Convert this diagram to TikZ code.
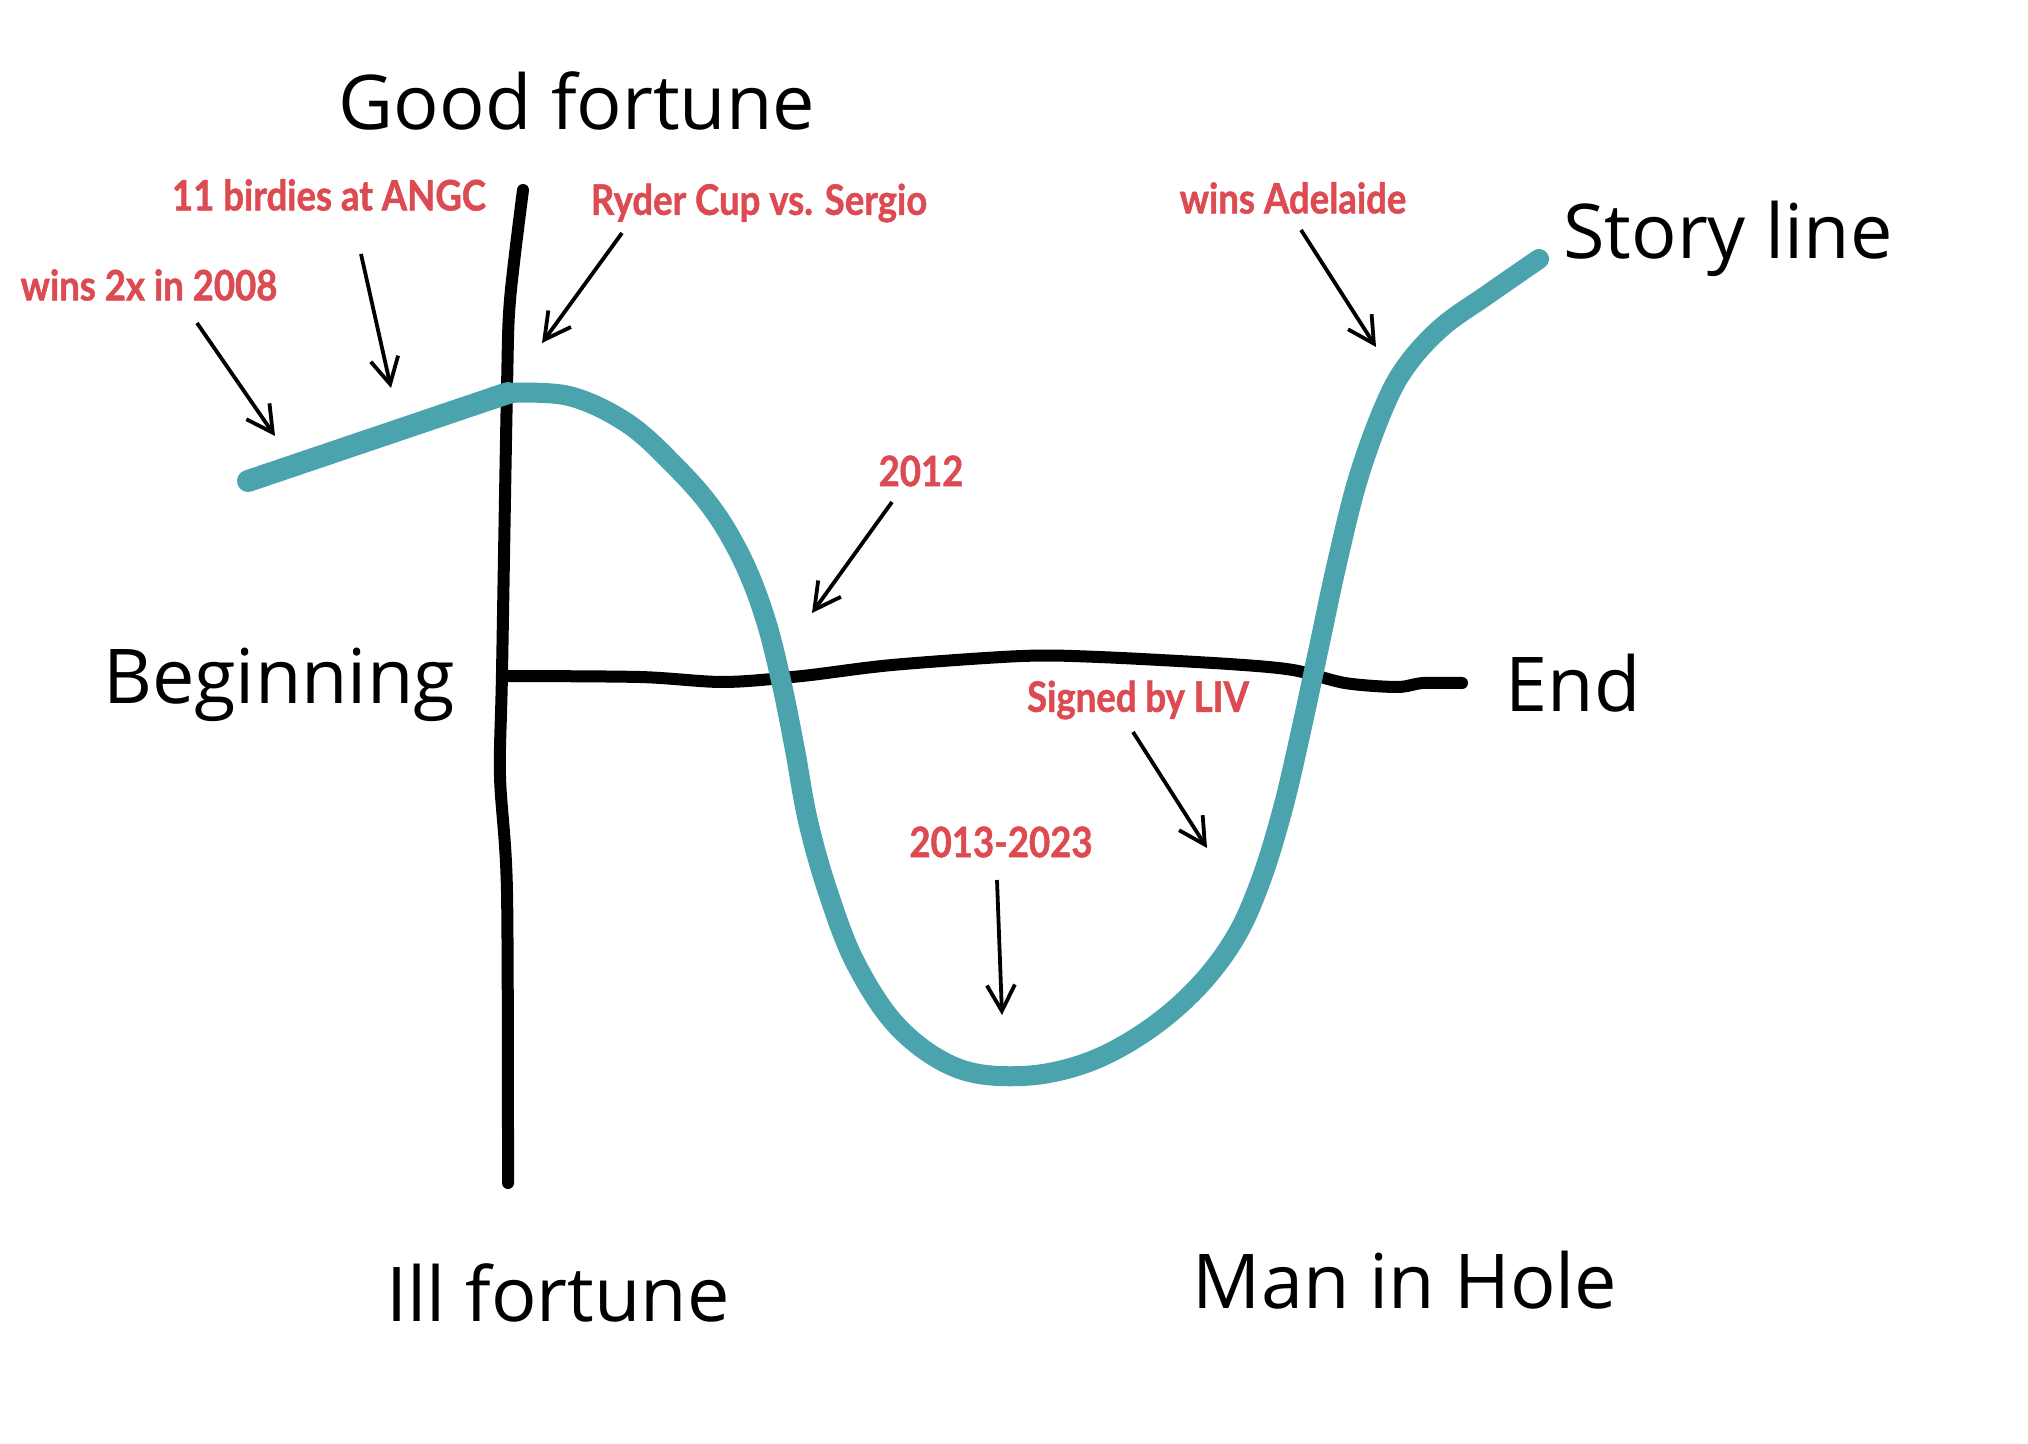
\documentclass[tikz,border=0pt]{standalone}
\usepackage{fontspec}
\usetikzlibrary{arrows.meta}
\newfontfamily\axisfont{Open Sans}
\newfontfamily\notefont{Lato}[FakeStretch=0.87,BoldFeatures={FakeBold=1.2}]
\definecolor{storyTeal}{RGB}{75,163,173}
\definecolor{noteRed}{RGB}{221,75,82}

\begin{document}
\begin{tikzpicture}[x=0.5pt,y=-0.5pt,
  axis/.style={line width=6pt,line cap=round,line join=round},
  story/.style={storyTeal,line width=10pt,line cap=round,line join=round},
  lbl/.style={font=\axisfont\fontsize{37.8}{45}\selectfont,inner sep=0pt},
  note/.style={font=\notefont\bfseries\fontsize{21}{25}\selectfont,text=noteRed,inner sep=0pt},
  pointer/.style={-{Straight Barb[length=13pt,width=14pt]},line width=1.9pt}
]
  \useasboundingbox (0,0) rectangle (2028,1444);

  % axes
  \draw[axis] plot[smooth] coordinates {(523,190) (510,300) (507,388) (502,673) (500,776) (507,892) (508,1183)};
  \draw[axis] plot[smooth] coordinates {(502,676) (640,677) (724,682) (802,676) (892,665) (1022,656) (1099,657) (1229,664) (1293,670) (1345,683) (1397,687) (1423,683) (1462,683)};

  % story line
  \draw[story,line width=11pt] (248,481) -- (508,393);
  \draw[story] plot[smooth,tension=0.6] coordinates {(508,393) (569,396) (627,423) (675,466) (714,511) (744,563) (766,621) (782,685) (795,750) (808,821) (828,892) (856,964) (899,1028) (957,1068) (1022,1076) (1086,1063) (1145,1032) (1196,989) (1235,938) (1261,880) (1283,808) (1301,731) (1319,647) (1337,563) (1358,479) (1384,407) (1407,365) (1442,327) (1487,295) (1539,259)};

  % axis labels
  \node[lbl] (good) at (577,101) {Good fortune};
  \node[lbl] (ill) at (558,1293) {Ill fortune};
  \node[lbl] (begin) at (279,685) {Beginning};
  \node[lbl] (end) at (1573,683) {End};
  \node[lbl] (story) at (1728,239) {Story line};
  \node[lbl] (hole) at (1405,1280) {Man in Hole};

  % notes
  \node[note] (n2008) at (149,285) {wins 2x in 2008};
  \node[note] (nangc) at (329,195) {11 birdies at ANGC};
  \node[note] (nryder) at (759,203) {Ryder Cup vs. Sergio};
  \node[note] (nadel) at (1293,198) {wins Adelaide};
  \node[note] (n2012) at (921,471) {2012};
  \node[note] (nliv) at (1138,700) {Signed by LIV};
  \node[note] (nlong) at (1001,842) {2013-2023};

  \coordinate (t2008) at (197,323);  \coordinate (h2008) at (275,436);
  \coordinate (tangc) at (361,254);  \coordinate (hangc) at (391,388);
  \coordinate (tryder) at (622,233); \coordinate (hryder) at (542,343);
  \coordinate (tadel) at (1301,230); \coordinate (hadel) at (1376,347);
  \coordinate (t2012) at (892,502);  \coordinate (h2012) at (812,613);
  \coordinate (tliv) at (1133,732);  \coordinate (hliv) at (1207,848);
  \coordinate (tlong) at (997,880);  \coordinate (hlong) at (1002,1015);

  \draw[pointer] (t2008) -- (h2008);
  \draw[pointer] (tangc) -- (hangc);
  \draw[pointer] (tryder) -- (hryder);
  \draw[pointer] (tadel) -- (hadel);
  \draw[pointer] (t2012) -- (h2012);
  \draw[pointer] (tliv) -- (hliv);
  \draw[pointer] (tlong) -- (hlong);
\end{tikzpicture}
\end{document}
